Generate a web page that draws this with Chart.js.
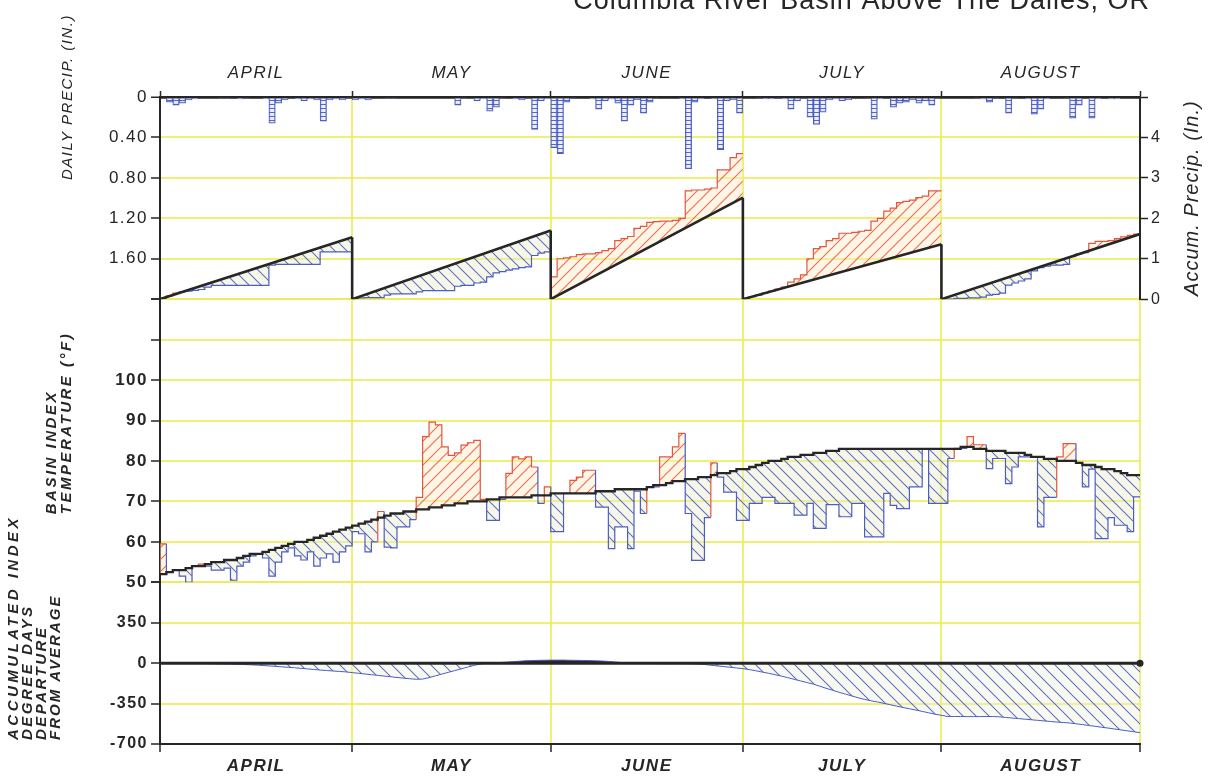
<!DOCTYPE html>
<html>
<head>
<meta charset="utf-8">
<title>Columbia River Basin Above The Dalles, OR</title>
<script src="https://cdn.jsdelivr.net/npm/chart.js@4.4.1/dist/chart.umd.min.js"></script>
<style>
  html, body { margin: 0; padding: 0; background: #ffffff; }
  canvas { display: block; }
</style>
</head>
<body>
<canvas id="c" width="1208" height="780"></canvas>
<script>
// ---- Season layout -------------------------------------------------------
const TITLE = 'Columbia River Basin Above The Dalles, OR';
const MONTHS = ['APRIL', 'MAY', 'JUNE', 'JULY', 'AUGUST'];
const MONTH_DAYS = [30, 31, 30, 31, 31];

// ---- Precipitation (inches) ----------------------------------------------
// daily basin precipitation, one value per day from April 1
const PRECIP_DAILY = [
  0,0.05,0.08,0.06,0.03,0.02,0,0,0,0.01, 0.01,0,0.02,0.01,0,0,0.02,0.26,0.06,0.03,
  0,0.02,0.04,0.02,0.03,0.24,0.03,0.02,0.03,0.01,
  0.03,0.02,0.03,0,0,0.01,0.01,0,0,0, 0,0,0,0,0,0,0.08,0.01,0,0.04,
  0.02,0.14,0.10,0.01,0,0.02,0.03,0.01,0.32,0.04, 0.02,
  0.50,0.56,0.05,0.01,0,0,0.02,0.12,0.04,0.02, 0.06,0.24,0.08,0.03,0.16,0.05,0.01,0,0,0,
  0.02,0.71,0.05,0.02,0,0.02,0.52,0.04,0.03,0.16,
  0,0,0.01,0.02,0.02,0.01,0.02,0.12,0.04,0.01, 0.20,0.27,0.15,0.03,0.02,0.04,0.03,0,0,0.01,
  0.22,0.02,0,0.10,0.06,0.05,0.03,0.06,0.04,0.08, 0.01,
  0,0,0,0,0,0.01,0.02,0.05,0.01,0, 0.16,0.01,0,0.02,0.17,0.12,0.02,0,0,0.01,
  0.21,0.08,0,0.21,0.02,0,0.02,0.02,0,0, 0
];
// observed precipitation accumulated within each month
const PRECIP_ACCUM = [
  0.02,0.08,0.15,0.18,0.20,0.22,0.24,0.30,0.34,0.34, 0.34,0.34,0.34,0.34,0.34,0.34,0.34,0.84,0.86,0.86,
  0.86,0.86,0.86,0.86,0.86,1.17,1.17,1.17,1.17,1.17,
  0.02,0.03,0.04,0.04,0.04,0.10,0.13,0.13,0.13,0.13, 0.18,0.21,0.21,0.21,0.21,0.21,0.32,0.34,0.34,0.40,
  0.42,0.55,0.65,0.68,0.72,0.75,0.78,0.80,1.08,1.14, 1.17,
  0.55,1.00,1.02,1.05,1.10,1.12,1.12,1.15,1.20,1.25, 1.45,1.50,1.55,1.75,1.80,1.90,1.92,1.93,1.93,1.95,
  2.00,2.68,2.70,2.70,2.72,2.75,3.20,3.20,3.50,3.60,
  0.02,0.06,0.10,0.15,0.20,0.25,0.30,0.42,0.50,0.60, 1.00,1.25,1.30,1.45,1.50,1.63,1.63,1.65,1.68,1.70,
  1.93,2.00,2.18,2.25,2.39,2.42,2.45,2.51,2.55,2.68, 2.68,
  0,0,0.02,0.02,0.03,0.03,0.05,0.10,0.12,0.15, 0.35,0.40,0.45,0.50,0.70,0.78,0.82,0.84,0.84,0.86,
  1.05,1.12,1.15,1.38,1.43,1.43,1.45,1.50,1.54,1.58, 1.61
];
// normal monthly totals (the straight accumulation ramps)
const PRECIP_NORMAL_TOTAL = [1.53, 1.70, 2.51, 1.36, 1.61];

// ---- Basin index temperature (deg F) -------------------------------------
const TEMP_NORMAL = [
  52,52.5,53,53,53.5,54,54,54.5,55,55, 55.5,55.5,56,56.5,57,57,57.5,58,58.5,59,
  59.5,60,60,60.5,61,61.5,62,62.5,63,63.5,
  64,64.5,65,65.5,66,66.5,67,67,67.5,67.5, 68,68,68.5,68.5,69,69,69.5,69.5,70,70,
  70,70.5,70.5,71,71,71,71,71,71.5,71.5, 71.5,
  72,72,72,72,72,72,72,72.5,72.5,72.5, 73,73,73,73,73,73.5,74,74,74.5,75,
  75,75.5,75.5,76,76,76.5,77,77,77.5,78,
  78,78.5,79,79.5,80,80,80.5,81,81,81.5, 81.5,82,82,82.5,82.5,83,83,83,83,83,
  83,83,83,83,83,83,83,83,83,83, 83,
  83,83,83,83.5,83.5,83,83,82.5,82.5,82.5, 82,82,82,81.5,81,81,80.5,80.5,80,80,
  80,79.5,79,79,78.5,78,78,77.5,77,76.5, 76.5
];
const TEMP_DAILY = [
  59.5,52.5,53,51.5,50,54,54.5,54,53,53, 53.5,50.5,54,55,56.5,57,56,51.5,55,57.5,
  58.5,56.5,55.5,57.5,54,56,57,55,57.5,59,
  62.5,62,57.5,60,67.5,58.7,58.5,63.7,63.7,65.5, 71,86,89.6,88.9,83.5,81.4,82,83.9,84.5,85.1,
  70.5,65.3,65.3,70.5,76.9,81,80.5,81,78.5,69.5, 73.6,
  62.5,62.5,72,75.2,76,77.7,77.7,68.6,68.6,58.3, 63.7,63.7,58.3,72.5,67,73.6,73.6,81,81,83.5,
  86.8,67,55.4,55.4,66,79.5,76,72.3,72.3,65.3,
  65.3,69.5,69.5,71,71,69.5,69.5,69.5,66.6,66.6, 69.5,63.3,63.3,69.2,69.2,66.2,66.2,69.5,69.5,61.2,
  61.2,61.2,72,69,68.2,68.2,73.6,73.6,83,69.5, 69.5,
  69.5,80.6,83.1,83.1,86,84,84,78.1,80.6,80.6, 74.4,78.5,81,81,81,63.7,71,71,81,84.3,
  84.3,79.4,73.6,78,60.8,60.8,66,64.1,64.1,62.5, 71.1
];

// ---- Accumulated index degree days, departure from average --------------
const DD_DEPARTURE = [
  0,0,0,0,-2,-3,-4,-5,-6,-7,-8,-10,
  -12,-14,-17,-20,-24,-28,-32,-36,-40,-45,-50,-55,-60,-64,-68,-72,-76,-82,
  -88,-94,-100,-106,-112,-118,-124,-130,-135,-140,
  -138,-126,-110,-95,-80,-65,-50,-35,-20,-8,
  0,2,5,8,12,
  16,20,22,24,25,26,26,26,25,24,23,22,20,18,15,10,
  5,2,0,-2,-3,-4,-5,-5,-5,-5,-5,-6,-8,-12,
  -18,-24,-30,-36,-42,-48,-56,
  -66,-77,-88,-100,-112,-126,-140,-154,-168,-182,
  -200,-218,-235,-252,-268,-284,-300,-314,-326,-336,
  -348,-360,-372,-384,-395,-406,-418,-430,-442,-452,-462,
  -462,-462,-463,-463,-463,-462,-462,-465,-470,-475,-480,-485,-490,
  -495,-500,-505,-510,-514,-518,-525,-532,-540,-547,-555,-562,-570,-578,-586,-594,-602
];

// ---- Styling ---------------------------------------------------------------
const FONT = '"Liberation Sans", Arial, sans-serif';
const INK = '#262626';
const BLUE = '#4c5ec2';
const RED = '#e2563e';
const YELLOW = 'rgba(236,236,92,0.85)';
const CLEAR = 'rgba(0,0,0,0)';

const canvas = document.getElementById('c');
const baseCtx = canvas.getContext('2d');

function hatch(stroke, bg, dir, size, lw) {
  const t = document.createElement('canvas');
  t.width = t.height = size;
  const g = t.getContext('2d');
  if (bg) { g.fillStyle = bg; g.fillRect(0, 0, size, size); }
  g.strokeStyle = stroke;
  g.lineWidth = lw;
  g.beginPath();
  if (dir === 'back') {
    g.moveTo(0, 0); g.lineTo(size, size);
    g.moveTo(-size / 2, size / 2); g.lineTo(size / 2, size * 1.5);
    g.moveTo(size / 2, -size / 2); g.lineTo(size * 1.5, size / 2);
  } else {
    g.moveTo(0, size); g.lineTo(size, 0);
    g.moveTo(-size / 2, size / 2); g.lineTo(size / 2, -size / 2);
    g.moveTo(size / 2, size * 1.5); g.lineTo(size * 1.5, size / 2);
  }
  g.stroke();
  return baseCtx.createPattern(t, 'repeat');
}
function ladder(stroke, w, h) {
  const t = document.createElement('canvas');
  t.width = w; t.height = h;
  const g = t.getContext('2d');
  g.fillStyle = 'rgba(225,230,248,0.6)';
  g.fillRect(0, 0, w, h);
  g.strokeStyle = stroke;
  g.lineWidth = 1;
  g.beginPath(); g.moveTo(0, 0.5); g.lineTo(w, 0.5); g.stroke();
  return baseCtx.createPattern(t, 'repeat');
}

const BELOW_FILL = hatch('rgba(70,88,190,0.85)', 'rgba(236,238,205,0.45)', 'back', 12, 1.1);
const ABOVE_FILL = hatch('rgba(226,96,66,0.9)', 'rgba(250,234,200,0.45)', 'fwd', 12, 1.1);
const DD_FILL = hatch('rgba(70,88,190,0.85)', 'rgba(236,238,215,0.35)', 'back', 13, 1.1);
const BAR_FILL = ladder('rgba(70,88,190,0.9)', 8, 4);

// ---- Derived positions along the day axis ------------------------------------
const starts = [];
let total = 0;
MONTH_DAYS.forEach(n => { starts.push(total); total += n; });
const TOTAL_DAYS = total;
const bounds = [...starts, TOTAL_DAYS];
const mids = starts.map((s, i) => s + MONTH_DAYS[i] / 2);
const dayTicks = [...bounds, ...mids].sort((a, b) => a - b);
const tickVal = c => (c && c.tick ? c.tick.value : NaN);
const isBound = v => bounds.includes(v);
const monthLabel = v => { const i = mids.indexOf(v); return i >= 0 ? MONTHS[i] : ''; };
const setDayTicks = s => { s.ticks = dayTicks.map(v => ({ value: v })); };

// ---- Datasets ------------------------------------------------------------------
const datasets = [];

datasets.push({
  type: 'bar',
  label: 'Daily precipitation',
  data: PRECIP_DAILY.map((v, i) => ({ x: i + 0.5, y: v > 0 ? v : null })),
  xAxisID: 'x', yAxisID: 'yP',
  backgroundColor: BAR_FILL, borderColor: BLUE, borderWidth: 1,
  barPercentage: 1, categoryPercentage: 1
});

const normalIdx = [];
MONTH_DAYS.forEach((n, m) => {
  normalIdx.push(datasets.length);
  datasets.push({
    label: 'Normal accumulation ' + MONTHS[m],
    data: [{ x: starts[m], y: 0 }, { x: bounds[m + 1], y: PRECIP_NORMAL_TOTAL[m] }],
    xAxisID: 'x', yAxisID: 'yAcc',
    borderColor: INK, borderWidth: 2.6, pointRadius: 0, fill: false
  });
});

// month-end resets of the accumulation
const resets = [];
for (let m = 0; m < MONTH_DAYS.length - 1; m++) {
  resets.push({ x: bounds[m + 1], y: PRECIP_NORMAL_TOTAL[m] }, { x: bounds[m + 1], y: 0 }, { x: bounds[m + 1], y: null });
}
datasets.push({
  label: 'Monthly reset', data: resets, xAxisID: 'x', yAxisID: 'yAcc',
  borderColor: INK, borderWidth: 2.6, pointRadius: 0, fill: false, spanGaps: false
});

MONTH_DAYS.forEach((n, m) => {
  const s = starts[m];
  const tot = PRECIP_NORMAL_TOTAL[m];
  const pts = [{ x: s, y: 0 }];
  PRECIP_ACCUM.slice(s, s + n).forEach((v, j) => pts.push({ x: s + j + 1, y: v }));
  datasets.push({
    label: 'Observed accumulation ' + MONTHS[m],
    data: pts, xAxisID: 'x', yAxisID: 'yAcc',
    stepped: 'after', borderWidth: 1.2, borderColor: BLUE, pointRadius: 0,
    fill: { target: normalIdx[m], above: ABOVE_FILL, below: BELOW_FILL },
    segment: {
      borderColor: c => {
        const xm = (c.p0.parsed.x + c.p1.parsed.x) / 2;
        const normal = tot * (xm - s) / n;
        return c.p1.parsed.y > normal + 1e-6 ? RED : BLUE;
      }
    }
  });
});

const tempNormalIdx = datasets.length;
datasets.push({
  label: 'Normal temperature',
  data: [{ x: 0, y: TEMP_NORMAL[0] }, ...TEMP_NORMAL.map((v, i) => ({ x: i + 1, y: v }))],
  xAxisID: 'x', yAxisID: 'yT',
  stepped: 'after', borderColor: INK, borderWidth: 2.3, pointRadius: 0, fill: false
});
datasets.push({
  label: 'Daily temperature',
  data: [{ x: 0, y: TEMP_DAILY[0] }, ...TEMP_DAILY.map((v, i) => ({ x: i + 1, y: v }))],
  xAxisID: 'x', yAxisID: 'yT',
  stepped: 'after', borderColor: BLUE, borderWidth: 1.2, pointRadius: 0,
  fill: { target: tempNormalIdx, above: ABOVE_FILL, below: BELOW_FILL },
  segment: {
    borderColor: c => {
      const i = Math.max(0, Math.round(c.p1.parsed.x) - 1);
      return c.p1.parsed.y > TEMP_NORMAL[i] ? RED : BLUE;
    }
  }
});

datasets.push({
  label: 'Average',
  data: [{ x: 0, y: 0 }, { x: TOTAL_DAYS, y: 0 }],
  xAxisID: 'x', yAxisID: 'yD',
  borderColor: INK, borderWidth: 3, pointRadius: [0, 3.5],
  pointBackgroundColor: INK, pointBorderWidth: 0, fill: false, clip: false
});
datasets.push({
  label: 'Degree-day departure',
  data: [{ x: 0, y: 0 }, ...DD_DEPARTURE.map((v, i) => ({ x: i + 1, y: v }))],
  xAxisID: 'x', yAxisID: 'yD',
  borderColor: BLUE, borderWidth: 1, pointRadius: 0,
  fill: { target: 'origin', above: INK, below: DD_FILL }
});

// ---- Text drawn around the panels -----------------------------------------------
function vText(ctx, text, x, y, align, font, spacing) {
  ctx.save();
  ctx.translate(x, y);
  ctx.rotate(-Math.PI / 2);
  ctx.font = font;
  ctx.letterSpacing = spacing;
  ctx.textAlign = align;
  ctx.textBaseline = 'middle';
  ctx.fillText(text, 0, 0);
  ctx.restore();
}

const spacing = {
  id: 'spacing',
  beforeLayout(chart) { chart.ctx.letterSpacing = '1.5px'; },
  beforeDraw(chart) { chart.ctx.letterSpacing = '1.5px'; }
};

const panelText = {
  id: 'panelText',
  afterDraw(chart) {
    const { ctx, chartArea: a, scales } = chart;
    ctx.save();
    ctx.fillStyle = INK;
    ctx.font = '27px ' + FONT;
    ctx.letterSpacing = '1px';
    ctx.textAlign = 'right';
    ctx.textBaseline = 'alphabetic';
    ctx.fillText(TITLE, a.right + 10, 9);

    vText(ctx, 'DAILY PRECIP. (IN.)', a.left - 92, scales.yP.top, 'center',
      'italic 15px ' + FONT, '1.5px');

    const tb = scales.yT.bottom - 68;
    vText(ctx, 'BASIN INDEX', a.left - 108, tb, 'left', 'italic bold 15px ' + FONT, '2.5px');
    vText(ctx, 'TEMPERATURE (°F)', a.left - 93, tb, 'left', 'italic bold 15px ' + FONT, '2.5px');

    const db = scales.yD.bottom - 4;
    [['ACCUMULATED INDEX', '3.5px'], ['DEGREE DAYS', '2.5px'], ['DEPARTURE', '2.5px'], ['FROM AVERAGE', '2px']]
      .forEach(([t, sp], i) => {
        vText(ctx, t, a.left - 146 + i * 13.8, db, 'left', 'italic bold 15px ' + FONT, sp);
      });

    vText(ctx, 'Accum. Precip. (In.)', a.right + 52, (scales.yAcc.top + scales.yAcc.bottom) / 2,
      'center', 'italic 20px ' + FONT, '1px');
    ctx.restore();
  }
};

// ---- Chart ------------------------------------------------------------------------
Chart.defaults.font.family = FONT;
Chart.defaults.color = INK;

const leftGrid = {
  color: YELLOW, lineWidth: 2, tickColor: INK, tickLength: 9, tickWidth: 1.5
};

new Chart(canvas, {
  type: 'line',
  data: { datasets },
  plugins: [spacing, panelText],
  options: {
    responsive: false,
    animation: false,
    devicePixelRatio: 1,
    events: [],
    layout: { padding: { left: 60, top: 17, right: 0, bottom: 0 } },
    plugins: { legend: { display: false }, tooltip: { enabled: false }, title: { display: false } },
    scales: {
      x: {
        type: 'linear', position: 'bottom', min: 0, max: TOTAL_DAYS, offset: false,
        afterBuildTicks: setDayTicks,
        afterFit: s => { s.height = 36; },
        ticks: {
          autoSkip: false, maxRotation: 0, padding: 4, callback: monthLabel,
          font: { size: 17, style: 'italic', weight: 'bold' }
        },
        grid: {
          offset: false,
          color: c => (isBound(tickVal(c)) ? YELLOW : CLEAR), lineWidth: 2,
          tickColor: c => (isBound(tickVal(c)) ? INK : CLEAR), tickLength: 8, tickWidth: 1.5
        },
        border: { color: INK, width: 2 }
      },
      xTop: {
        type: 'linear', position: 'top', min: 0, max: TOTAL_DAYS, offset: false,
        afterBuildTicks: setDayTicks,
        afterFit: s => { s.height = 80; },
        ticks: {
          autoSkip: false, maxRotation: 0, padding: 8, callback: monthLabel,
          font: { size: 17, style: 'italic' }
        },
        grid: {
          offset: false, drawOnChartArea: false,
          tickColor: c => (isBound(tickVal(c)) ? INK : CLEAR), tickLength: 6, tickWidth: 1.5
        },
        border: { color: INK, width: 2.5 }
      },
      yD: {
        type: 'linear', position: 'left', stack: 'left', stackWeight: 4,
        min: -700, max: 700,
        afterFit: s => { s.width = 100; },
        ticks: { stepSize: 350, padding: 3, callback: v => (v >= 700 ? '' : String(v)),
          font: { size: 16, weight: 'bold' } },
        grid: leftGrid,
        border: { color: INK, width: 2 }
      },
      yT: {
        type: 'linear', position: 'left', stack: 'left', stackWeight: 7,
        min: 50, max: 120,
        afterFit: s => { s.width = 100; },
        ticks: { stepSize: 10, padding: 3, callback: v => (v > 100 ? '' : String(v)),
          font: { size: 17, weight: 'bold' } },
        grid: leftGrid,
        border: { color: INK, width: 2 }
      },
      yP: {
        type: 'linear', position: 'left', stack: 'left', stackWeight: 5,
        min: 0, max: 2, reverse: true,
        afterFit: s => { s.width = 100; },
        ticks: { stepSize: 0.4, padding: 3,
          callback: v => (v === 0 ? '0' : (v > 1.7 ? '' : v.toFixed(2))),
          font: { size: 17 } },
        grid: {
          color: c => (tickVal(c) === 0 ? INK : YELLOW),
          lineWidth: c => (tickVal(c) === 0 ? 2.5 : 2),
          tickColor: INK, tickLength: 9, tickWidth: 1.5
        },
        border: { color: INK, width: 2 }
      },
      yAcc: {
        type: 'linear', position: 'right', stack: 'right', stackWeight: 5,
        min: 0, max: 5,
        afterFit: s => { s.width = 68; },
        ticks: { stepSize: 1, padding: 3, callback: v => (v >= 5 ? '' : String(v)),
          font: { size: 16 } },
        grid: { drawOnChartArea: false, tickColor: INK, tickLength: 8, tickWidth: 1.5 },
        border: { color: INK, width: 2 }
      },
      yR2: {
        type: 'linear', position: 'right', stack: 'right', stackWeight: 7,
        min: 0, max: 1,
        ticks: { display: false }, grid: { display: false }, border: { display: false }
      },
      yR3: {
        type: 'linear', position: 'right', stack: 'right', stackWeight: 4,
        min: 0, max: 1,
        ticks: { display: false }, grid: { display: false }, border: { display: false }
      }
    }
  }
});
</script>
</body>
</html>
